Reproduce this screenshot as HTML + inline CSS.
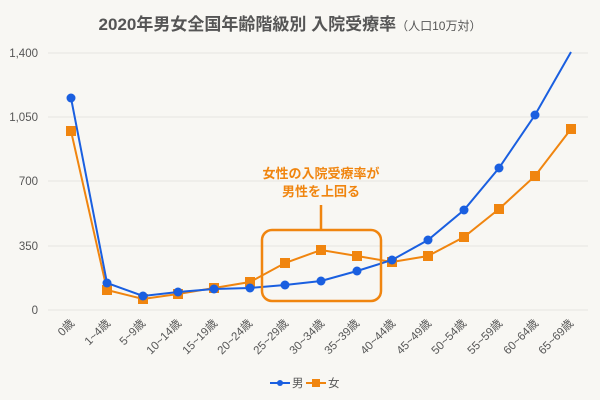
<!DOCTYPE html>
<html><head><meta charset="utf-8"><style>
body{margin:0;background:#f8f7f3;}
svg{display:block;font-family:"Liberation Sans","Noto Sans CJK JP",sans-serif;}
</style></head><body>
<svg width="600" height="400" viewBox="0 0 600 400">
<rect width="600" height="400" fill="#f8f7f3"/>
<text x="290" y="30" text-anchor="middle" font-size="17" font-weight="bold" fill="#555">2020年男女全国年齢階級別 入院受療率<tspan font-size="12" font-weight="normal">（人口10万対）</tspan></text>
<g stroke="#e6e4e0" stroke-width="1">
<line x1="48" y1="53" x2="588" y2="53"/><line x1="48" y1="117" x2="588" y2="117"/>
<line x1="48" y1="181" x2="588" y2="181"/><line x1="48" y1="246" x2="588" y2="246"/>
<line x1="48" y1="310" x2="588" y2="310"/>
</g>
<g font-size="11.5" fill="#555" text-anchor="end">
<text x="38" y="57">1,400</text><text x="38" y="121">1,050</text>
<text x="38" y="185">700</text><text x="38" y="250">350</text><text x="38" y="314">0</text>
</g>
<g font-size="11.5" fill="#555" text-anchor="end">
<text transform="translate(75,324) rotate(-45)">0歳</text>
<text transform="translate(111,324) rotate(-45)">1~4歳</text>
<text transform="translate(146,324) rotate(-45)">5~9歳</text>
<text transform="translate(182,324) rotate(-45)">10~14歳</text>
<text transform="translate(218,324) rotate(-45)">15~19歳</text>
<text transform="translate(253,324) rotate(-45)">20~24歳</text>
<text transform="translate(289,324) rotate(-45)">25~29歳</text>
<text transform="translate(325,324) rotate(-45)">30~34歳</text>
<text transform="translate(360,324) rotate(-45)">35~39歳</text>
<text transform="translate(396,324) rotate(-45)">40~44歳</text>
<text transform="translate(432,324) rotate(-45)">45~49歳</text>
<text transform="translate(467,324) rotate(-45)">50~54歳</text>
<text transform="translate(503,324) rotate(-45)">55~59歳</text>
<text transform="translate(539,324) rotate(-45)">60~64歳</text>
<text transform="translate(574,324) rotate(-45)">65~69歳</text>
</g>
<polyline fill="none" stroke="#f0850f" stroke-width="2" points="71,131 107,290 143,299 178,294 214,288 250,282 285,263 321,250 357,256 392,262 428,256 464,237 499,209 535,176 571,129"/>
<g fill="#f0850f">
<rect x="66" y="126" width="10" height="10"/><rect x="102" y="285" width="10" height="10"/><rect x="138" y="294" width="10" height="10"/><rect x="173" y="289" width="10" height="10"/><rect x="209" y="283" width="10" height="10"/><rect x="245" y="277" width="10" height="10"/><rect x="280" y="258" width="10" height="10"/><rect x="316" y="245" width="10" height="10"/><rect x="352" y="251" width="10" height="10"/><rect x="387" y="257" width="10" height="10"/><rect x="423" y="251" width="10" height="10"/><rect x="459" y="232" width="10" height="10"/><rect x="494" y="204" width="10" height="10"/><rect x="530" y="171" width="10" height="10"/><rect x="566" y="124" width="10" height="10"/>
</g>
<polyline fill="none" stroke="#1a5fe0" stroke-width="2" points="71,98 107,283 143,296 178,292 214,289 250,288 285,285 321,281 357,271 392,260 428,240 464,210 499,168 535,115 571,52"/>
<g fill="#1a5fe0">
<circle cx="71" cy="98" r="4.5"/><circle cx="107" cy="283" r="4.5"/><circle cx="143" cy="296" r="4.5"/><circle cx="178" cy="292" r="4.5"/><circle cx="214" cy="289" r="4.5"/><circle cx="250" cy="288" r="4.5"/><circle cx="285" cy="285" r="4.5"/><circle cx="321" cy="281" r="4.5"/><circle cx="357" cy="271" r="4.5"/><circle cx="392" cy="260" r="4.5"/><circle cx="428" cy="240" r="4.5"/><circle cx="464" cy="210" r="4.5"/><circle cx="499" cy="168" r="4.5"/><circle cx="535" cy="115" r="4.5"/>
</g>
<rect x="262" y="230" width="119" height="71" rx="10" fill="none" stroke="#f0850f" stroke-width="2.5"/>
<line x1="321" y1="205" x2="321" y2="230" stroke="#f0850f" stroke-width="2.5"/>
<g font-size="13" font-weight="bold" fill="#f0850f" text-anchor="middle">
<text x="321" y="178">女性の入院受療率が</text><text x="321" y="196">男性を上回る</text>
</g>
<line x1="270" y1="383" x2="290" y2="383" stroke="#1a5fe0" stroke-width="2"/><circle cx="280" cy="383" r="3" fill="#1a5fe0"/>
<text x="292" y="387" font-size="11.5" fill="#555">男</text>
<line x1="306" y1="383" x2="326" y2="383" stroke="#f0850f" stroke-width="2"/><rect x="312" y="379" width="8" height="8" fill="#f0850f"/>
<text x="328" y="387" font-size="11.5" fill="#555">女</text>
</svg>
</body></html>
